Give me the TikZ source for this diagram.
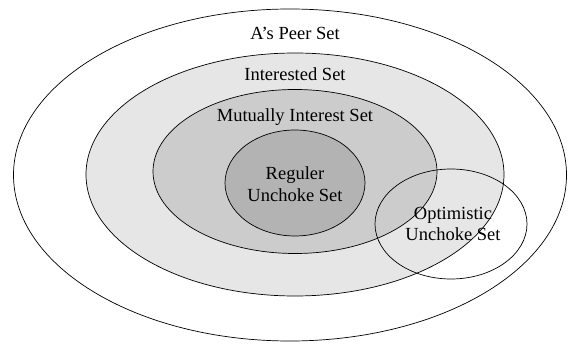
\documentclass[tikz,border=0pt]{standalone}
\usepackage{fontspec}
\setmainfont{Liberation Serif}
\newfontfamily\setfont{Liberation Serif}
\definecolor{setlight}{HTML}{E6E6E6}
\definecolor{setmid}{HTML}{CCCCCC}
\definecolor{setdark}{HTML}{B3B3B3}
\usetikzlibrary{shapes.geometric,positioning}

\begin{document}
\begin{tikzpicture}[
  x=1pt, y=1pt,
  set/.style={ellipse, draw=black, line width=0.7pt, fill=#1, inner sep=0pt},
  lbl/.style={font=\setfont\fontsize{18.5}{21.5}\selectfont, align=center}
]
  \useasboundingbox (0,0) rectangle (568,343);

  % Sets
  \node[set=white, minimum width=553pt, minimum height=332pt] (peer) at (290,168) {};
  \node[set=setlight, minimum width=418pt, minimum height=243pt] (interested) at (295,168.5) {};
  \node[set=setmid, minimum width=284pt, minimum height=164pt] (mutual) at (295,171.5) {};
  \node[set=setdark, minimum width=140pt, minimum height=106pt] (reguler) at (295,160) {};
  \node[set=none, fill opacity=0, minimum width=152pt, minimum height=110pt] (optimistic) at (451,119) {};

  % Labels
  \node[lbl] (peerlbl) at (295,310) {A’s Peer Set};
  \node[lbl] (interestedlbl) at (295,269) {Interested Set};
  \node[lbl] (mutuallbl) at (295,226) {Mutually Interest Set};
  \node[lbl] (regulerlbl) at (295,159) {Reguler\\Unchoke Set};
  \node[lbl] (optimisticlbl) at (453,119) {Optimistic\\Unchoke Set};
\end{tikzpicture}
\end{document}
